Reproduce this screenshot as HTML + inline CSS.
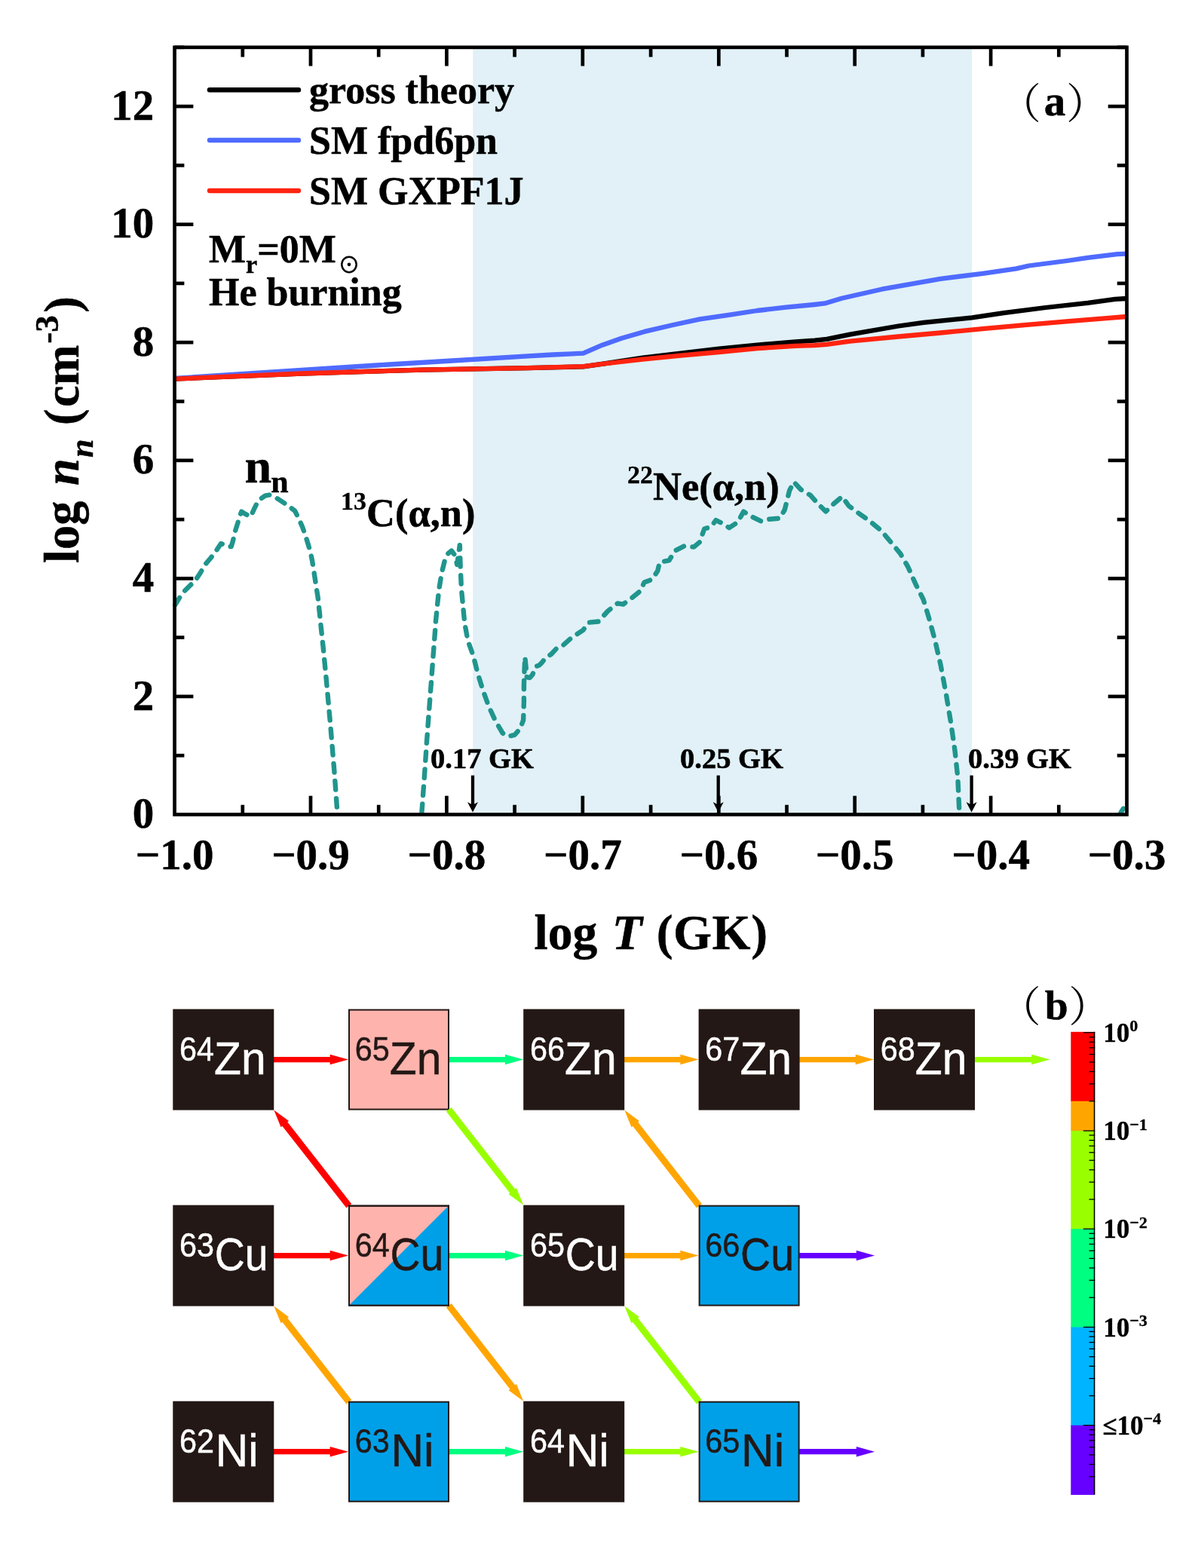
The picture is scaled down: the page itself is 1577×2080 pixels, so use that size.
<!DOCTYPE html>
<html lang="en">
<head>
<meta charset="utf-8">
<title>Figure: neutron density and reaction flow</title>
<style>
html,body{margin:0;padding:0;background:#fff;}
body{width:1577px;height:2080px;overflow:hidden;}
svg{display:block;}
.tb{font-family:"Liberation Serif","Noto Serif CJK SC",serif;font-weight:bold;fill:#000;stroke:#000;stroke-width:0.5px;stroke-linejoin:round;}
.pr{font-family:"Noto Serif CJK SC","Liberation Serif",serif;font-weight:normal;fill:#000;}
.ss{font-family:"Liberation Sans","Noto Sans CJK SC",sans-serif;}
</style>
</head>
<body>
<svg width="1577" height="2080" viewBox="0 0 1577 2080">
<rect x="0" y="0" width="1577" height="2080" fill="#ffffff"/>

<rect x="627.2" y="62.8" width="661.8" height="1017.7" fill="#e1f1f7"/>
<g fill="none" stroke-linejoin="round" stroke-linecap="butt">
<polyline points="231.6,502.6 400.0,495.5 560.0,490.6 700.0,488.1 773.6,486.3 801.5,482.3 852.2,474.6 902.9,468.6 953.6,462.7 1004.4,457.7 1055.1,453.3 1080.5,451.6 1096.7,449.8 1127.4,443.7 1191.6,432.5 1225.1,427.8 1289.3,421.4 1331.1,415.2 1386.9,408.0 1442.7,401.8 1479.0,396.8 1494.0,396.0" stroke="#000000" stroke-width="6.3"/>
<polyline points="231.6,502.0 300.0,497.3 400.0,491.0 500.0,484.5 600.0,478.5 700.0,472.3 733.0,470.5 773.6,468.6 798.9,457.7 824.3,448.8 854.7,439.9 892.8,431.0 928.3,423.4 966.3,417.8 1004.4,412.0 1042.4,407.7 1080.5,404.0 1094.0,402.4 1116.3,395.7 1169.3,383.7 1247.4,369.8 1303.2,362.8 1347.9,356.4 1364.6,352.5 1414.8,346.0 1442.7,341.9 1481.8,337.1 1494.0,336.6" stroke="#4f6bff" stroke-width="6.3"/>
<polyline points="231.6,502.6 400.0,495.5 560.0,490.6 700.0,488.1 773.6,486.1 801.5,482.5 852.2,476.7 902.9,471.6 953.6,467.0 1004.4,462.2 1055.1,458.9 1080.0,458.2 1096.7,456.8 1127.4,452.6 1191.6,446.5 1247.4,441.5 1303.2,436.2 1359.0,431.1 1414.8,426.4 1470.6,421.9 1494.0,420.0" stroke="#ff2410" stroke-width="6.3"/>
</g>
<g fill="none" stroke="#20958d" stroke-width="6.4" stroke-linejoin="round" stroke-linecap="round" stroke-dasharray="11.5 11.6">
<polyline points="232.2,802.6 236.7,795.0 242.8,785.9 252.0,776.8 259.6,769.1 265.7,760.0 271.7,749.4 279.4,740.2 285.4,732.6 293.0,721.2 298.0,722.5 302.9,725.0 306.7,725.0 309.0,717.4 311.3,706.7 315.1,694.6 318.2,683.9 320.4,678.6 325.0,681.6 332.6,685.4 337.2,674.8 342.5,664.1 351.6,657.7 357.0,656.5 362.3,658.0 372.2,664.1 381.3,670.2 391.2,677.8 396.5,688.5 401.1,699.1 404.9,709.8 408.7,722.0 411.8,732.6 414.0,743.3 415.9,755.4 417.8,767.6 419.4,778.3 421.6,792.0 423.9,813.3 426.2,836.1 428.5,857.4 432.9,902.7 438.1,959.8 443.3,1022.0 447.4,1078.0"/>
<polyline points="559.4,1078.0 562.8,1031.2 565.8,987.0 567.9,958.2 570.1,929.3 572.3,900.5 574.4,871.6 576.2,848.6 578.0,824.0 580.2,801.0 582.4,780.8 586.0,759.1 589.6,744.7 593.9,734.6 598.9,730.6 604.0,737.5 606.2,749.0 608.2,735.0 609.8,723.1 610.5,747.6 611.9,780.8 614.1,803.9 616.3,826.9 620.6,850.0 627.8,870.2 633.6,893.3 640.8,916.4 648.0,936.5 656.6,955.3 666.7,972.6 673.9,976.9 682.6,974.8 689.8,966.8 694.1,955.3 694.9,930.8 694.9,909.1 695.6,887.5 696.3,871.6 697.7,886.1 698.8,898.3 702.8,899.0 706.4,894.7 708.6,889.0 710.7,883.9 715.1,882.5 718.7,878.9 724.4,871.6 730.9,868.0 738.9,859.4 746.1,856.5 758.1,846.0 773.4,835.9 781.0,825.7 793.6,824.5 806.3,810.5 819.0,800.4 826.6,801.6 836.8,794.0 849.4,783.9 854.5,772.5 864.7,768.7 872.3,757.3 874.8,745.8 887.5,743.3 895.1,730.6 907.6,724.3 920.3,725.6 927.9,719.2 934.2,701.5 943.1,698.9 949.5,690.0 959.6,695.1 967.2,700.2 978.6,692.6 986.2,678.6 996.4,685.0 1009.1,691.3 1019.2,688.8 1034.4,687.5 1040.8,676.1 1047.1,650.7 1052.9,639.3 1062.3,649.5 1075.0,657.1 1085.2,668.5 1095.3,678.6 1105.5,668.5 1116.9,658.8 1125.7,671.0 1141.0,682.4 1153.6,691.3 1168.9,704.0 1181.5,719.2 1194.2,734.4 1204.4,752.2 1214.5,775.0 1224.7,795.3 1232.3,820.7 1239.9,848.6 1247.5,881.5 1255.1,922.1 1261.4,960.2 1266.5,995.7 1270.3,1031.2 1272.4,1078.0"/>
<polyline points="1486.5,1078.0 1490.0,1072.5"/>
</g>
<g stroke="#000" stroke-width="4.7" fill="none">
<line x1="321.8" y1="1080.5" x2="321.8" y2="1067.7"/>
<line x1="321.8" y1="62.8" x2="321.8" y2="75.6"/>
<line x1="412.0" y1="1080.5" x2="412.0" y2="1055.7"/>
<line x1="412.0" y1="62.8" x2="412.0" y2="87.6"/>
<line x1="502.2" y1="1080.5" x2="502.2" y2="1067.7"/>
<line x1="502.2" y1="62.8" x2="502.2" y2="75.6"/>
<line x1="592.4" y1="1080.5" x2="592.4" y2="1055.7"/>
<line x1="592.4" y1="62.8" x2="592.4" y2="87.6"/>
<line x1="682.6" y1="1080.5" x2="682.6" y2="1067.7"/>
<line x1="682.6" y1="62.8" x2="682.6" y2="75.6"/>
<line x1="772.8" y1="1080.5" x2="772.8" y2="1055.7"/>
<line x1="772.8" y1="62.8" x2="772.8" y2="87.6"/>
<line x1="863.1" y1="1080.5" x2="863.1" y2="1067.7"/>
<line x1="863.1" y1="62.8" x2="863.1" y2="75.6"/>
<line x1="953.3" y1="1080.5" x2="953.3" y2="1055.7"/>
<line x1="953.3" y1="62.8" x2="953.3" y2="87.6"/>
<line x1="1043.5" y1="1080.5" x2="1043.5" y2="1067.7"/>
<line x1="1043.5" y1="62.8" x2="1043.5" y2="75.6"/>
<line x1="1133.7" y1="1080.5" x2="1133.7" y2="1055.7"/>
<line x1="1133.7" y1="62.8" x2="1133.7" y2="87.6"/>
<line x1="1223.9" y1="1080.5" x2="1223.9" y2="1067.7"/>
<line x1="1223.9" y1="62.8" x2="1223.9" y2="75.6"/>
<line x1="1314.1" y1="1080.5" x2="1314.1" y2="1055.7"/>
<line x1="1314.1" y1="62.8" x2="1314.1" y2="87.6"/>
<line x1="1404.3" y1="1080.5" x2="1404.3" y2="1067.7"/>
<line x1="1404.3" y1="62.8" x2="1404.3" y2="75.6"/>
<line x1="231.6" y1="1002.2" x2="244.4" y2="1002.2"/>
<line x1="1494.5" y1="1002.2" x2="1481.7" y2="1002.2"/>
<line x1="231.6" y1="923.9" x2="256.4" y2="923.9"/>
<line x1="1494.5" y1="923.9" x2="1469.7" y2="923.9"/>
<line x1="231.6" y1="845.6" x2="244.4" y2="845.6"/>
<line x1="1494.5" y1="845.6" x2="1481.7" y2="845.6"/>
<line x1="231.6" y1="767.4" x2="256.4" y2="767.4"/>
<line x1="1494.5" y1="767.4" x2="1469.7" y2="767.4"/>
<line x1="231.6" y1="689.1" x2="244.4" y2="689.1"/>
<line x1="1494.5" y1="689.1" x2="1481.7" y2="689.1"/>
<line x1="231.6" y1="610.8" x2="256.4" y2="610.8"/>
<line x1="1494.5" y1="610.8" x2="1469.7" y2="610.8"/>
<line x1="231.6" y1="532.5" x2="244.4" y2="532.5"/>
<line x1="1494.5" y1="532.5" x2="1481.7" y2="532.5"/>
<line x1="231.6" y1="454.2" x2="256.4" y2="454.2"/>
<line x1="1494.5" y1="454.2" x2="1469.7" y2="454.2"/>
<line x1="231.6" y1="375.9" x2="244.4" y2="375.9"/>
<line x1="1494.5" y1="375.9" x2="1481.7" y2="375.9"/>
<line x1="231.6" y1="297.7" x2="256.4" y2="297.7"/>
<line x1="1494.5" y1="297.7" x2="1469.7" y2="297.7"/>
<line x1="231.6" y1="219.4" x2="244.4" y2="219.4"/>
<line x1="1494.5" y1="219.4" x2="1481.7" y2="219.4"/>
<line x1="231.6" y1="141.1" x2="256.4" y2="141.1"/>
<line x1="1494.5" y1="141.1" x2="1469.7" y2="141.1"/>
<line x1="231.6" y1="62.8" x2="244.4" y2="62.8"/>
<line x1="1494.5" y1="62.8" x2="1481.7" y2="62.8"/>
</g>
<rect x="231.6" y="62.8" width="1262.9" height="1017.7" fill="none" stroke="#000" stroke-width="4.7"/>
<line x1="627.0" y1="1028.6" x2="627.0" y2="1070.6" stroke="#000" stroke-width="4.3"/>
<path d="M627.0,1077.6 L620.0,1064.1 L627.0,1067.8 L634.0,1064.1 Z" fill="#000"/>
<line x1="952.7" y1="1028.6" x2="952.7" y2="1070.6" stroke="#000" stroke-width="4.3"/>
<path d="M952.7,1077.6 L945.7,1064.1 L952.7,1067.8 L959.7,1064.1 Z" fill="#000"/>
<line x1="1288.6" y1="1028.6" x2="1288.6" y2="1070.6" stroke="#000" stroke-width="4.3"/>
<path d="M1288.6,1077.6 L1281.6,1064.1 L1288.6,1067.8 L1295.6,1064.1 Z" fill="#000"/>
<g class="tb" font-size="57" text-anchor="end">
<text x="204.3" y="1098.1">0</text>
<text x="204.3" y="941.5">2</text>
<text x="204.3" y="785.0">4</text>
<text x="204.3" y="628.4">6</text>
<text x="204.3" y="471.8">8</text>
<text x="204.3" y="315.3">10</text>
<text x="204.3" y="158.7">12</text>
</g>
<g class="tb" font-size="57" text-anchor="middle">
<text x="231.6" y="1152.6">−1.0</text>
<text x="412.0" y="1152.6">−0.9</text>
<text x="592.4" y="1152.6">−0.8</text>
<text x="772.8" y="1152.6">−0.7</text>
<text x="953.3" y="1152.6">−0.6</text>
<text x="1133.7" y="1152.6">−0.5</text>
<text x="1314.1" y="1152.6">−0.4</text>
<text x="1494.5" y="1152.6">−0.3</text>
</g>
<text class="tb" font-size="65.5" x="708.6" y="1258.6">log <tspan font-style="italic" dx="3">T</tspan><tspan dx="2" letter-spacing="0.6"> (GK)</tspan></text>
<text class="tb" font-size="64.5" transform="translate(104.3,747) rotate(-90)">log <tspan font-style="italic" dx="4.5">n</tspan><tspan font-style="italic" font-size="44" dy="19" dx="1">n</tspan><tspan dy="-19" dx="2.5"> (</tspan><tspan dx="2.5">cm</tspan><tspan font-size="45" dy="-27" dx="2">-3</tspan><tspan dy="27" dx="3.5">)</tspan></text>
<g fill="none" stroke-width="6.4" stroke-linecap="round">
<line x1="278" y1="119.3" x2="396" y2="119.3" stroke="#000000"/>
<line x1="278" y1="186.0" x2="396" y2="186.0" stroke="#4f6bff"/>
<line x1="278" y1="253.0" x2="396" y2="253.0" stroke="#ff2410"/>
</g>
<g class="tb" font-size="52">
<text x="410" y="136.5">gross theory</text>
<text x="410" y="203.5">SM fpd6pn</text>
<text x="410" y="270.5">SM GXPF1J</text>
<text x="277" y="347.6">M<tspan font-size="34" dy="14">r</tspan><tspan dy="-14">=0M</tspan><tspan font-size="28" dy="14" dx="3" style="stroke-width:1.1px">⊙</tspan></text>
<text x="277" y="404.7">He burning</text>
</g>
<text class="tb" font-size="57" x="1384.8" y="152.8">a</text>
<text class="pr" font-size="55.6" x="1325.2" y="156.7">（</text>
<text class="pr" font-size="55.6" x="1414" y="156.7">）</text>
<text class="tb" font-size="64" x="324.4" y="640.4">n<tspan font-size="42" dy="12.8" dx="-0.8">n</tspan></text>
<text class="tb" font-size="52.5" x="452" y="697.8"><tspan font-size="34" dy="-21.5" style="stroke-width:0.3px">13</tspan><tspan dy="21.5">C(α,n)</tspan></text>
<text class="tb" font-size="52.5" x="832" y="662.8"><tspan font-size="34" dy="-21.5" style="stroke-width:0.3px">22</tspan><tspan dy="21.5">Ne(α,n)</tspan></text>
<g class="tb" font-size="38.5" style="stroke-width:0.6px">
<text x="571" y="1019">0.17 GK</text>
<text x="902" y="1019">0.25 GK</text>
<text x="1284" y="1019">0.39 GK</text>
</g>
<line x1="362.8" y1="1405.6" x2="438.7" y2="1405.6" stroke="#ff0000" stroke-width="7.3"/>
<path d="M462.0,1405.6 L437.7,1398.8 L437.7,1412.3 Z" fill="#ff0000"/>
<line x1="595.5" y1="1405.6" x2="670.9" y2="1405.6" stroke="#00ff80" stroke-width="7.3"/>
<path d="M694.2,1405.6 L669.9,1398.8 L669.9,1412.3 Z" fill="#00ff80"/>
<line x1="827.7" y1="1405.6" x2="903.3" y2="1405.6" stroke="#ffa500" stroke-width="7.3"/>
<path d="M926.6,1405.6 L902.3,1398.8 L902.3,1412.3 Z" fill="#ffa500"/>
<line x1="1060.1" y1="1405.6" x2="1135.7" y2="1405.6" stroke="#ffa500" stroke-width="7.3"/>
<path d="M1159.0,1405.6 L1134.7,1398.8 L1134.7,1412.3 Z" fill="#ffa500"/>
<line x1="1292.5" y1="1405.6" x2="1369.2" y2="1405.6" stroke="#99ff00" stroke-width="7.3"/>
<path d="M1392.5,1405.6 L1368.2,1398.8 L1368.2,1412.3 Z" fill="#99ff00"/>
<rect x="229.3" y="1338.6" width="134.0" height="134.0" fill="#231815"/>
<g class="ss" fill="#ffffff" stroke="#ffffff" stroke-width="0.5">
<text font-size="45" transform="translate(238.0,1406.5) scale(0.92,1)">64</text>
<text font-size="60.3" transform="translate(284.1,1425.2) scale(0.975,1)">Zn</text>
</g>
<rect x="463.0" y="1339.6" width="132.0" height="132.0" fill="#ffb3ad" stroke="#231815" stroke-width="2"/>
<g class="ss" fill="#231815" stroke="#231815" stroke-width="0.5">
<text font-size="45" transform="translate(470.7,1406.5) scale(0.92,1)">65</text>
<text font-size="60.3" transform="translate(516.8,1425.2) scale(0.975,1)">Zn</text>
</g>
<rect x="694.2" y="1338.6" width="134.0" height="134.0" fill="#231815"/>
<g class="ss" fill="#ffffff" stroke="#ffffff" stroke-width="0.5">
<text font-size="45" transform="translate(702.9,1406.5) scale(0.92,1)">66</text>
<text font-size="60.3" transform="translate(749.0,1425.2) scale(0.975,1)">Zn</text>
</g>
<rect x="926.6" y="1338.6" width="134.0" height="134.0" fill="#231815"/>
<g class="ss" fill="#ffffff" stroke="#ffffff" stroke-width="0.5">
<text font-size="45" transform="translate(935.3,1406.5) scale(0.92,1)">67</text>
<text font-size="60.3" transform="translate(981.4,1425.2) scale(0.975,1)">Zn</text>
</g>
<rect x="1159.0" y="1338.6" width="134.0" height="134.0" fill="#231815"/>
<g class="ss" fill="#ffffff" stroke="#ffffff" stroke-width="0.5">
<text font-size="45" transform="translate(1167.7,1406.5) scale(0.92,1)">68</text>
<text font-size="60.3" transform="translate(1213.8,1425.2) scale(0.975,1)">Zn</text>
</g>
<line x1="462.8" y1="1599.6" x2="377.2" y2="1490.3" stroke="#ff0000" stroke-width="8.7"/>
<path d="M363.3,1472.6 L383.0,1487.0 L372.6,1495.2 Z" fill="#ff0000"/>
<line x1="927.4" y1="1599.6" x2="842.0" y2="1490.3" stroke="#ffa500" stroke-width="8.7"/>
<path d="M828.2,1472.6 L847.9,1487.1 L837.5,1495.2 Z" fill="#ffa500"/>
<line x1="595.2" y1="1471.6" x2="680.4" y2="1580.9" stroke="#99ff00" stroke-width="8.7"/>
<path d="M694.2,1598.6 L674.5,1584.1 L685.0,1576.0 Z" fill="#99ff00"/>
<line x1="362.8" y1="1665.6" x2="438.7" y2="1665.6" stroke="#ff0000" stroke-width="7.3"/>
<path d="M462.0,1665.6 L437.7,1658.8 L437.7,1672.3 Z" fill="#ff0000"/>
<line x1="595.5" y1="1665.6" x2="670.9" y2="1665.6" stroke="#00ff80" stroke-width="7.3"/>
<path d="M694.2,1665.6 L669.9,1658.8 L669.9,1672.3 Z" fill="#00ff80"/>
<line x1="827.7" y1="1665.6" x2="903.3" y2="1665.6" stroke="#ffa500" stroke-width="7.3"/>
<path d="M926.6,1665.6 L902.3,1658.8 L902.3,1672.3 Z" fill="#ffa500"/>
<line x1="1060.1" y1="1665.6" x2="1136.8" y2="1665.6" stroke="#6600ff" stroke-width="7.3"/>
<path d="M1160.1,1665.6 L1135.8,1658.8 L1135.8,1672.3 Z" fill="#6600ff"/>
<line x1="595.2" y1="1731.6" x2="680.4" y2="1840.9" stroke="#ffa500" stroke-width="8.7"/>
<path d="M694.2,1858.7 L674.6,1844.2 L685.0,1836.1 Z" fill="#ffa500"/>
<rect x="229.3" y="1598.6" width="134.0" height="134.0" fill="#231815"/>
<g class="ss" fill="#ffffff" stroke="#ffffff" stroke-width="0.5">
<text font-size="45" transform="translate(238.0,1666.5) scale(0.92,1)">63</text>
<text font-size="60.3" transform="translate(284.8,1685.2) scale(0.92,1)">Cu</text>
</g>
<rect x="463.0" y="1599.6" width="132.0" height="132.0" fill="#ffb3ad" stroke="#231815" stroke-width="2"/>
<path d="M595.0,1599.6 L595.0,1731.6 L463.0,1731.6 Z" fill="#00a0e9"/>
<rect x="463.0" y="1599.6" width="132.0" height="132.0" fill="none" stroke="#231815" stroke-width="2"/>
<g class="ss" fill="#231815" stroke="#231815" stroke-width="0.5">
<text font-size="45" transform="translate(470.7,1666.5) scale(0.92,1)">64</text>
<text font-size="60.3" transform="translate(517.5,1685.2) scale(0.92,1)">Cu</text>
</g>
<rect x="694.2" y="1598.6" width="134.0" height="134.0" fill="#231815"/>
<g class="ss" fill="#ffffff" stroke="#ffffff" stroke-width="0.5">
<text font-size="45" transform="translate(702.9,1666.5) scale(0.92,1)">65</text>
<text font-size="60.3" transform="translate(749.7,1685.2) scale(0.92,1)">Cu</text>
</g>
<rect x="927.6" y="1599.6" width="132.0" height="132.0" fill="#00a0e9" stroke="#231815" stroke-width="2"/>
<g class="ss" fill="#231815" stroke="#231815" stroke-width="0.5">
<text font-size="45" transform="translate(935.3,1666.5) scale(0.92,1)">66</text>
<text font-size="60.3" transform="translate(982.1,1685.2) scale(0.92,1)">Cu</text>
</g>
<line x1="462.8" y1="1859.7" x2="377.2" y2="1750.3" stroke="#ffa500" stroke-width="8.7"/>
<path d="M363.3,1732.6 L383.0,1747.0 L372.6,1755.2 Z" fill="#ffa500"/>
<line x1="927.4" y1="1859.7" x2="842.0" y2="1750.3" stroke="#99ff00" stroke-width="8.7"/>
<path d="M828.2,1732.6 L847.9,1747.1 L837.5,1755.2 Z" fill="#99ff00"/>
<line x1="362.8" y1="1925.7" x2="438.7" y2="1925.7" stroke="#ff0000" stroke-width="7.3"/>
<path d="M462.0,1925.7 L437.7,1919.0 L437.7,1932.5 Z" fill="#ff0000"/>
<line x1="595.5" y1="1925.7" x2="670.9" y2="1925.7" stroke="#00ff80" stroke-width="7.3"/>
<path d="M694.2,1925.7 L669.9,1919.0 L669.9,1932.5 Z" fill="#00ff80"/>
<line x1="827.7" y1="1925.7" x2="903.3" y2="1925.7" stroke="#99ff00" stroke-width="7.3"/>
<path d="M926.6,1925.7 L902.3,1919.0 L902.3,1932.5 Z" fill="#99ff00"/>
<line x1="1060.1" y1="1925.7" x2="1136.8" y2="1925.7" stroke="#6600ff" stroke-width="7.3"/>
<path d="M1160.1,1925.7 L1135.8,1919.0 L1135.8,1932.5 Z" fill="#6600ff"/>
<rect x="229.3" y="1858.7" width="134.0" height="134.0" fill="#231815"/>
<g class="ss" fill="#ffffff" stroke="#ffffff" stroke-width="0.5">
<text font-size="45" transform="translate(238.0,1926.6) scale(0.92,1)">62</text>
<text font-size="60.3" transform="translate(285.8,1945.3) scale(1.0,1)">Ni</text>
</g>
<rect x="463.0" y="1859.7" width="132.0" height="132.0" fill="#00a0e9" stroke="#231815" stroke-width="2"/>
<g class="ss" fill="#231815" stroke="#231815" stroke-width="0.5">
<text font-size="45" transform="translate(470.7,1926.6) scale(0.92,1)">63</text>
<text font-size="60.3" transform="translate(518.5,1945.3) scale(1.0,1)">Ni</text>
</g>
<rect x="694.2" y="1858.7" width="134.0" height="134.0" fill="#231815"/>
<g class="ss" fill="#ffffff" stroke="#ffffff" stroke-width="0.5">
<text font-size="45" transform="translate(702.9,1926.6) scale(0.92,1)">64</text>
<text font-size="60.3" transform="translate(750.7,1945.3) scale(1.0,1)">Ni</text>
</g>
<rect x="927.6" y="1859.7" width="132.0" height="132.0" fill="#00a0e9" stroke="#231815" stroke-width="2"/>
<g class="ss" fill="#231815" stroke="#231815" stroke-width="0.5">
<text font-size="45" transform="translate(935.3,1926.6) scale(0.92,1)">65</text>
<text font-size="60.3" transform="translate(983.1,1945.3) scale(1.0,1)">Ni</text>
</g>
<text class="tb" font-size="55.5" x="1385.8" y="1351.6">b</text>
<text class="pr" font-size="55.6" x="1325.0" y="1355">（</text>
<text class="pr" font-size="55.6" x="1417.3" y="1355">）</text>
<rect x="1420.3" y="1368.8" width="31.9" height="92.4" fill="#ff0000"/>
<rect x="1420.3" y="1460.7" width="31.9" height="39.7" fill="#ffa500"/>
<rect x="1420.3" y="1500.0" width="31.9" height="130.8" fill="#99ff00"/>
<rect x="1420.3" y="1630.2" width="31.9" height="130.8" fill="#00ff80"/>
<rect x="1420.3" y="1760.5" width="31.9" height="130.8" fill="#00b4ff"/>
<rect x="1420.3" y="1890.7" width="31.9" height="92.3" fill="#6600ff"/>
<g stroke="#000" stroke-width="1.3" fill="none">
<line x1="1436.8" y1="1369.7" x2="1452.2" y2="1369.7"/>
<line x1="1444.5" y1="1375.7" x2="1452.2" y2="1375.7"/>
<line x1="1444.5" y1="1382.3" x2="1452.2" y2="1382.3"/>
<line x1="1444.5" y1="1389.9" x2="1452.2" y2="1389.9"/>
<line x1="1444.5" y1="1398.6" x2="1452.2" y2="1398.6"/>
<line x1="1444.5" y1="1408.9" x2="1452.2" y2="1408.9"/>
<line x1="1444.5" y1="1421.5" x2="1452.2" y2="1421.5"/>
<line x1="1444.5" y1="1437.8" x2="1452.2" y2="1437.8"/>
<line x1="1444.5" y1="1460.7" x2="1452.2" y2="1460.7"/>
<line x1="1436.8" y1="1500.0" x2="1452.2" y2="1500.0"/>
<line x1="1444.5" y1="1505.9" x2="1452.2" y2="1505.9"/>
<line x1="1444.5" y1="1512.6" x2="1452.2" y2="1512.6"/>
<line x1="1444.5" y1="1520.1" x2="1452.2" y2="1520.1"/>
<line x1="1444.5" y1="1528.8" x2="1452.2" y2="1528.8"/>
<line x1="1444.5" y1="1539.2" x2="1452.2" y2="1539.2"/>
<line x1="1444.5" y1="1551.8" x2="1452.2" y2="1551.8"/>
<line x1="1444.5" y1="1568.1" x2="1452.2" y2="1568.1"/>
<line x1="1444.5" y1="1591.0" x2="1452.2" y2="1591.0"/>
<line x1="1436.8" y1="1630.2" x2="1452.2" y2="1630.2"/>
<line x1="1444.5" y1="1636.2" x2="1452.2" y2="1636.2"/>
<line x1="1444.5" y1="1642.8" x2="1452.2" y2="1642.8"/>
<line x1="1444.5" y1="1650.4" x2="1452.2" y2="1650.4"/>
<line x1="1444.5" y1="1659.1" x2="1452.2" y2="1659.1"/>
<line x1="1444.5" y1="1669.4" x2="1452.2" y2="1669.4"/>
<line x1="1444.5" y1="1682.0" x2="1452.2" y2="1682.0"/>
<line x1="1444.5" y1="1698.3" x2="1452.2" y2="1698.3"/>
<line x1="1444.5" y1="1721.2" x2="1452.2" y2="1721.2"/>
<line x1="1436.8" y1="1760.5" x2="1452.2" y2="1760.5"/>
<line x1="1444.5" y1="1766.4" x2="1452.2" y2="1766.4"/>
<line x1="1444.5" y1="1773.1" x2="1452.2" y2="1773.1"/>
<line x1="1444.5" y1="1780.6" x2="1452.2" y2="1780.6"/>
<line x1="1444.5" y1="1789.3" x2="1452.2" y2="1789.3"/>
<line x1="1444.5" y1="1799.7" x2="1452.2" y2="1799.7"/>
<line x1="1444.5" y1="1812.3" x2="1452.2" y2="1812.3"/>
<line x1="1444.5" y1="1828.6" x2="1452.2" y2="1828.6"/>
<line x1="1444.5" y1="1851.5" x2="1452.2" y2="1851.5"/>
<line x1="1436.8" y1="1890.7" x2="1452.2" y2="1890.7"/>
<line x1="1444.5" y1="1896.7" x2="1452.2" y2="1896.7"/>
<line x1="1444.5" y1="1903.3" x2="1452.2" y2="1903.3"/>
<line x1="1444.5" y1="1910.9" x2="1452.2" y2="1910.9"/>
<line x1="1444.5" y1="1919.6" x2="1452.2" y2="1919.6"/>
<line x1="1444.5" y1="1929.9" x2="1452.2" y2="1929.9"/>
<line x1="1444.5" y1="1942.5" x2="1452.2" y2="1942.5"/>
<line x1="1444.5" y1="1958.8" x2="1452.2" y2="1958.8"/>
</g>
<line x1="1451.5" y1="1368.8" x2="1451.5" y2="1982.5" stroke="#000" stroke-width="1.5"/>
<g class="tb" font-size="35" style="stroke-width:0.35px">
<text x="1463.3" y="1381.9">10<tspan font-size="22" dy="-13.5">0</tspan></text>
<text x="1463.3" y="1512.2">10<tspan font-size="22" dy="-13.5">−1</tspan></text>
<text x="1463.3" y="1642.4">10<tspan font-size="22" dy="-13.5">−2</tspan></text>
<text x="1463.3" y="1772.7">10<tspan font-size="22" dy="-13.5">−3</tspan></text>
<text x="1462.3" y="1902.9">≤10<tspan font-size="22" dy="-13.5">−4</tspan></text>
</g>
</svg>
</body>
</html>
